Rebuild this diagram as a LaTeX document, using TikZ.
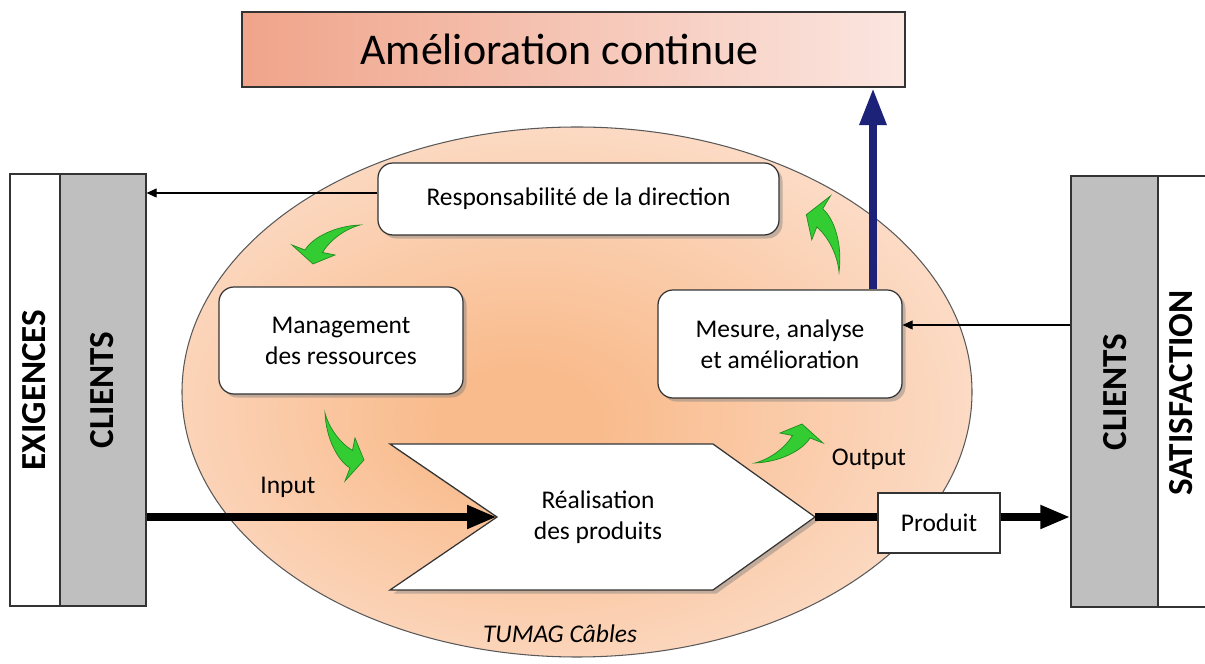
\documentclass[tikz,border=0pt]{standalone}
\usepackage{fontspec}
\setmainfont{Carlito}
\usepackage{tikz}
\usetikzlibrary{arrows.meta}
\usetikzlibrary{shadows}

\definecolor{colgray}{HTML}{BFBFBF}
\definecolor{ellin}{HTML}{F9BB8C}
\definecolor{ellout}{HTML}{FCDECB}
\definecolor{topleft}{HTML}{F0A48A}
\definecolor{topright}{HTML}{FBE6E0}
\definecolor{navy}{HTML}{1C2277}
\definecolor{cyclegreen}{HTML}{33CC33}
\definecolor{cycledark}{HTML}{1E8C1E}

\pgfdeclareradialshading{tumagglow}{\pgfpoint{-4bp}{-3bp}}{color(0bp)=(ellin); color(5bp)=(ellin); color(30bp)=(ellout); color(60bp)=(ellout)}

\tikzset{
    column/.style={draw=black!80, line width=0.7pt, inner sep=0pt},
    colname/.style={font=\bfseries\fontsize{20}{24}\selectfont, rotate=90},
    stagebox/.style={draw=black!80, line width=0.7pt, fill=white, rounded corners=0.3cm, align=center,
        font=\fontsize{14.5}{17.6}\selectfont,
        drop shadow={shadow xshift=2pt, shadow yshift=-2pt, opacity=0.45}},
    plaintext/.style={font=\fontsize{14.5}{17.6}\selectfont},
    thinarrow/.style={line width=0.6pt, -{Triangle[length=0.2cm, width=0.18cm]}},
    flowline/.style={line width=4.5pt},
    flowarrow/.style={line width=4.5pt, -{Triangle[length=0.6cm, width=0.44cm]}},
    navyarrow/.style={navy, line width=5pt, -{Triangle[length=0.75cm, width=0.5cm]}},
    cyclearrow/.pic={
        \filldraw[cyclegreen, draw=cycledark, line width=0.4pt] (0,0) .. controls (0.5,0.02) and (0.95,0.25) .. (1.1,0.5)
            -- (1.36,0.4) -- (0.94,0.78) -- (0.5,0.6) -- (0.75,0.55) .. controls (0.6,0.3) and (0.3,0.08) .. (0,0) -- cycle;
    }
}

\begin{document}
\begin{tikzpicture}

    \useasboundingbox (0,0) rectangle (24.1,13.28);

    \shade[shading=tumagglow, draw=black!65, line width=0.6pt] (11.54,5.44) ellipse [x radius=7.9cm, y radius=5.3cm];

    \node[draw=black!80, line width=0.7pt, left color=topleft, right color=topright, minimum width=13.26cm, minimum height=1.5cm,
        font=\fontsize{25}{30}\selectfont] (improve) at (11.47,12.29) {\hspace*{-0.56cm}Amélioration continue};

    \node[column, fill=white, minimum width=1cm, minimum height=8.64cm] (exig) at (0.7,5.48) {};
    \node[column, fill=colgray, minimum width=1.72cm, minimum height=8.64cm] (clientsL) at (2.06,5.48) {};
    \node[colname] (exigtext) at (0.68,5.48) {EXIGENCES};
    \node[colname] (clientsLtext) at (2.04,5.48) {CLIENTS};

    \node[column, fill=colgray, minimum width=1.74cm, minimum height=8.62cm] (clientsR) at (22.29,5.45) {};
    \node[column, fill=white, minimum width=1.04cm, minimum height=8.62cm] (satis) at (23.68,5.45) {};
    \node[colname] (clientsRtext) at (22.3,5.44) {CLIENTS};
    \node[colname] (satistext) at (23.62,5.42) {SATISFACTION};

    \node[stagebox, minimum width=8.02cm, minimum height=1.44cm] (resp) at (11.57,9.30) {Responsabilité de la direction};
    \node[stagebox, minimum width=4.88cm, minimum height=2.14cm] (manag) at (6.82,6.47) {Management\\des ressources};
    \node[stagebox, minimum width=4.88cm, minimum height=2.16cm] (mesure) at (15.6,6.40) {Mesure, analyse\\et amélioration};

    \coordinate (realin) at (9.94,2.94);
    \coordinate (realout) at (16.30,2.94);
    \draw[draw=black!80, line width=0.7pt, fill=white, drop shadow={shadow xshift=2pt, shadow yshift=-2pt, opacity=0.45}]
        (7.8,4.40) -- (14.26,4.40) -- (realout) -- (14.26,1.48) -- (7.8,1.48) -- (realin) -- cycle;
    \node[plaintext, align=center] (real) at (11.96,2.94) {Réalisation\\des produits};

    \node[draw=black!80, line width=0.7pt, fill=white, minimum width=2.44cm, minimum height=1.2cm, plaintext] (prod) at (18.78,2.82) {Produit};

    \node[plaintext] (input) at (5.76,3.54) {Input};
    \node[plaintext] (output) at (17.38,4.10) {Output};
    \node[plaintext, font=\itshape\fontsize{14.5}{17.6}\selectfont] (tumag) at (11.2,0.6) {TUMAG Câbles};

    \draw[flowarrow] (clientsL.east |- realin) -- (realin);
    \draw[flowline] (realout) -- (prod.west |- realout);
    \draw[flowarrow] (prod.east |- realout) -- (clientsR.west |- realout);

    \path (resp.west) ++(0,0.12) coordinate (r1);
    \draw[thinarrow] (r1) -- (r1 -| clientsL.east);
    \path (mesure.east) ++(0,0.38) coordinate (m1);
    \draw[thinarrow] (m1 -| clientsR.west) -- (m1);

    \path (mesure.north) ++(1.86,0) coordinate (m2);
    \draw[navyarrow] (m2) -- (m2 |- improve.south);

    \pic[rotate=180] at (7.2,8.78) {cyclearrow};
    \pic[rotate=270] at (6.5,5.02) {cyclearrow};
    \pic at (15.1,4.02) {cyclearrow};
    \pic[rotate=80, scale=1.08] at (16.78,7.84) {cyclearrow};

\end{tikzpicture}
\end{document}
